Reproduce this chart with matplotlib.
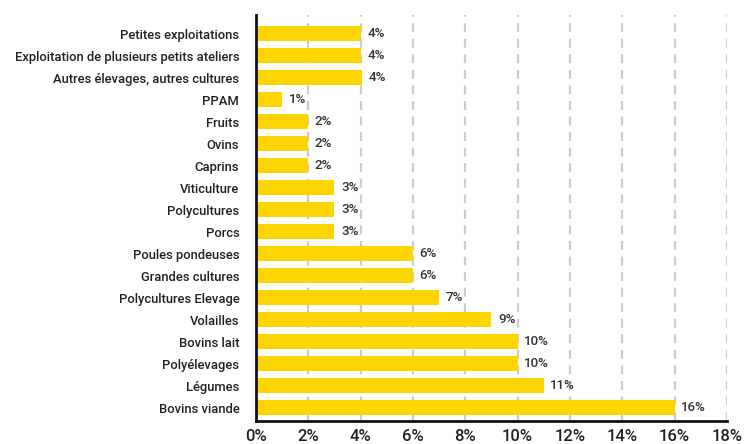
import matplotlib
matplotlib.use("Agg")
import matplotlib.pyplot as plt
from matplotlib.ticker import FuncFormatter

categories = ["Petites exploitations", "Exploitation de plusieurs petits ateliers",
              "Autres élevages, autres cultures", "PPAM", "Fruits", "Ovins", "Caprins",
              "Viticulture", "Polycultures", "Porcs", "Poules pondeuses", "Grandes cultures",
              "Polycultures Elevage", "Volailles", "Bovins lait", "Polyélevages",
              "Légumes", "Bovins viande"]
values = [4.0, 4.0, 4.05, 1.0, 2.0, 2.0, 2.0, 3.0, 3.0, 3.0, 6.0, 6.0, 7.0, 9.0, 10.0, 10.0, 11.0, 16.0]
labels = ["4%", "4%", "4%", "1%", "2%", "2%", "2%", "3%", "3%", "3%", "6%", "6%", "7%",
          "9%", "10%", "10%", "11%", "16%"]
xticks = [0, 2, 4, 6, 8, 10, 12, 14, 16, 18]

plt.rcParams['font.family'] = ['Roboto', 'DejaVu Sans']
fig = plt.figure(figsize=(7.44, 4.44), dpi=100)
ax = fig.add_axes([0.344, 0.052, 0.633, 0.914])

y = list(range(len(categories)))
ax.barh(y, values, height=0.7, color="#FFD500", zorder=2)
for yi, v, lab in zip(y, values, labels):
    ax.text(v + 0.25, yi, lab, va="center", ha="left", fontsize=9.6,
            color="#333333", fontweight="medium")

ax.set_yticks(y)
ax.set_yticklabels(categories, fontsize=9.4, color="#222222", fontweight="medium")
ax.set_ylim(len(categories) - 0.4, -0.85)
ax.set_xlim(0, 18)
ax.set_xticks(xticks)
ax.xaxis.set_major_formatter(FuncFormatter(lambda v, p: f"{int(v)}%"))
ax.tick_params(axis='x', labelsize=12, colors="#222222", length=0, pad=6)
for t in ax.get_xticklabels():
    t.set_fontweight("medium")
ax.tick_params(axis='y', length=0, pad=12)
ax.grid(axis='x', color="#cccccc", linestyle=(0, (4, 3)), linewidth=1.6, zorder=0)
for s in ["top", "right"]:
    ax.spines[s].set_visible(False)
ax.spines["left"].set_linewidth(2)
ax.spines["bottom"].set_linewidth(2)
ax.spines["left"].set_color("#111111")
ax.spines["bottom"].set_color("#111111")

fig.savefig("out.png", dpi=100)
